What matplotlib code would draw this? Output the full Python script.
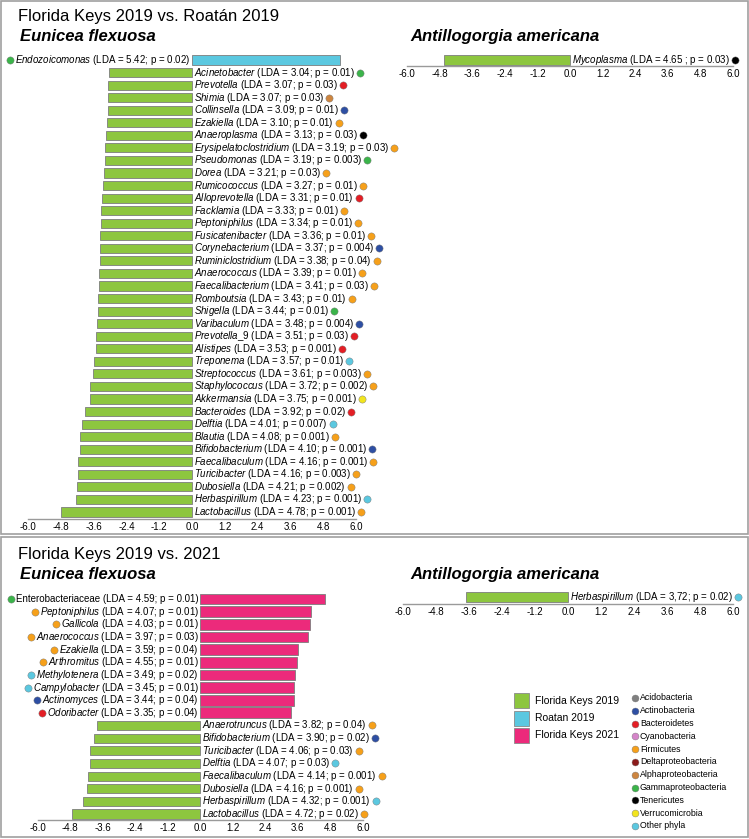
import matplotlib
matplotlib.use('Agg')
import matplotlib.pyplot as plt
from matplotlib.patches import Rectangle
from matplotlib.lines import Line2D
from matplotlib.transforms import offset_copy

plt.rcParams['font.family'] = ['Liberation Sans', 'DejaVu Sans']
plt.rcParams['mathtext.fontset'] = 'custom'
plt.rcParams['mathtext.rm'] = 'Liberation Sans'
plt.rcParams['mathtext.it'] = 'Liberation Sans:italic'
plt.rcParams['mathtext.bf'] = 'Liberation Sans:bold'
plt.rcParams['axes.unicode_minus'] = False

# ---------------- data ----------------
xticks = [-6.0, -4.8, -3.6, -2.4, -1.2, 0.0, 1.2, 2.4, 3.6, 4.8, 6.0]

group_colors = {'Florida Keys 2019': '#8DC63F', 'Roatan 2019': '#5BC8E0', 'Florida Keys 2021': '#EC2A7B'}
phylum_names = ['Acidobacteria', 'Actinobacteria', 'Bacteroidetes', 'Cyanobacteria', 'Firmicutes',
                'Deltaproteobacteria', 'Alphaproteobacteria', 'Gammaproteobacteria', 'Tenericutes',
                'Verrucomicrobia', 'Other phyla']
phylum_colors = ['#808080', '#2E4FA3', '#E31E25', '#D585C9', '#F6A01A', '#8B1A1A', '#CD8540',
                 '#3BB44A', '#000000', '#F2E51E', '#5BC8E0']

# Florida Keys 2019 vs Roatan 2019 - Eunicea flexuosa
t1_names = ['Endozoicomonas', 'Acinetobacter', 'Prevotella', 'Shimia', 'Collinsella', 'Ezakiella',
            'Anaeroplasma', 'Erysipelatoclostridium', 'Pseudomonas', 'Dorea', 'Rumicococcus',
            'Alloprevotella', 'Facklamia', 'Peptoniphilus', 'Fusicatenibacter', 'Corynebacterium',
            'Ruminiclostridium', 'Anaerococcus', 'Faecalibacterium', 'Romboutsia', 'Shigella',
            'Varibaculum', 'Prevotella_9', 'Alistipes', 'Treponema', 'Streptococcus',
            'Staphylococcus', 'Akkermansia', 'Bacteroides', 'Delftia', 'Blautia', 'Bifidobacterium',
            'Faecalibaculum', 'Turicibacter', 'Dubosiella', 'Herbaspirillum', 'Lactobacillus']
t1_lda = [5.42, 3.04, 3.07, 3.07, 3.09, 3.10, 3.13, 3.19, 3.19, 3.21, 3.27, 3.31, 3.33, 3.34, 3.36,
          3.37, 3.38, 3.39, 3.41, 3.43, 3.44, 3.48, 3.51, 3.53, 3.57, 3.61, 3.72, 3.75, 3.92, 4.01,
          4.08, 4.10, 4.16, 4.16, 4.21, 4.23, 4.78]
t1_p = ['0.02', '0.01', '0.03', '0.03', '0.01', '0.01', '0.03', '0.03', '0.003', '0.03', '0.01',
        '0.01', '0.01', '0.01', '0.01', '0.004', '0.04', '0.01', '0.03', '0.01', '0.01', '0.004',
        '0.03', '0.001', '0.01', '0.003', '0.002', '0.001', '0.02', '0.007', '0.001', '0.001',
        '0.001', '0.003', '0.002', '0.001', '0.001']
t1_group = ['Roatan 2019'] + ['Florida Keys 2019'] * 36
t1_phylum = ['Gammaproteobacteria', 'Gammaproteobacteria', 'Bacteroidetes', 'Alphaproteobacteria',
             'Actinobacteria', 'Firmicutes', 'Tenericutes', 'Firmicutes', 'Gammaproteobacteria',
             'Firmicutes', 'Firmicutes', 'Bacteroidetes', 'Firmicutes', 'Firmicutes', 'Firmicutes',
             'Actinobacteria', 'Firmicutes', 'Firmicutes', 'Firmicutes', 'Firmicutes',
             'Gammaproteobacteria', 'Actinobacteria', 'Bacteroidetes', 'Bacteroidetes', 'Other phyla',
             'Firmicutes', 'Firmicutes', 'Verrucomicrobia', 'Bacteroidetes', 'Other phyla',
             'Firmicutes', 'Actinobacteria', 'Firmicutes', 'Firmicutes', 'Firmicutes', 'Other phyla',
             'Firmicutes']

# Florida Keys 2019 vs Roatan 2019 - Antillogorgia americana
t2_names = ['Mycoplasma']
t2_lda = [4.65]
t2_labels = ['4.65 ; p = 0.03']
t2_group = ['Florida Keys 2019']
t2_phylum = ['Tenericutes']

# Florida Keys 2019 vs 2021 - Eunicea flexuosa
b1_names = ['Enterobacteriaceae', 'Peptoniphilus', 'Gallicola', 'Anaerococcus', 'Ezakiella',
            'Arthromitus', 'Methylotenera', 'Campylobacter', 'Actinomyces', 'Odoribacter',
            'Anaerotruncus', 'Bifidobacterium', 'Turicibacter', 'Delftia', 'Faecalibaculum',
            'Dubosiella', 'Herbaspirillum', 'Lactobacillus']
b1_italic = [False] + [True] * 17
b1_lda = [4.59, 4.07, 4.03, 3.97, 3.59, 3.55, 3.49, 3.45, 3.44, 3.35, 3.82, 3.90, 4.06, 4.07, 4.14,
          4.16, 4.32, 4.72]
b1_lda_text = ['4.59', '4.07', '4.03', '3.97', '3.59', '4.55', '3.49', '3.45', '3.44', '3.35', '3.82',
               '3.90', '4.06', '4.07', '4.14', '4.16', '4.32', '4.72']
b1_p = ['0.01', '0.01', '0.01', '0.03', '0.04', '0.01', '0.02', '0.01', '0.04', '0.04', '0.04', '0.02',
        '0.03', '0.03', '0.001', '0.001', '0.001', '0.02']
b1_group = ['Florida Keys 2021'] * 10 + ['Florida Keys 2019'] * 8
b1_phylum = ['Gammaproteobacteria', 'Firmicutes', 'Firmicutes', 'Firmicutes', 'Firmicutes',
             'Firmicutes', 'Other phyla', 'Other phyla', 'Actinobacteria', 'Bacteroidetes',
             'Firmicutes', 'Actinobacteria', 'Firmicutes', 'Other phyla', 'Firmicutes', 'Firmicutes',
             'Other phyla', 'Firmicutes']

# Florida Keys 2019 vs 2021 - Antillogorgia americana
b2_names = ['Herbaspirillum']
b2_lda = [3.72]
b2_labels = ['3,72; p = 0.02']
b2_group = ['Florida Keys 2019']
b2_phylum = ['Other phyla']

# ---------------- figure ----------------
W, H = 749, 839
fig = plt.figure(figsize=(W / 100, H / 100), dpi=100)
pc = dict(zip(phylum_names, phylum_colors))

ov = fig.add_axes([0, 0, 1, 1])
ov.set_xlim(0, W)
ov.set_ylim(H, 0)
ov.axis('off')


def add_ax(x0, x1, y0, y1):
    return fig.add_axes([x0 / W, 1 - y1 / H, (x1 - x0) / W, (y1 - y0) / H])


def style_axis(ax):
    for s in ['top', 'right', 'left']:
        ax.spines[s].set_visible(False)
    ax.spines['bottom'].set_color('#9a9a9a')
    ax.spines['bottom'].set_linewidth(1.0)
    ax.set_xlim(-6, 6)
    ax.set_xticks(xticks)
    ax.set_xticklabels([f"{t:.1f}" for t in xticks], fontsize=7)
    ax.tick_params(axis='x', length=0, pad=2.5)
    ax.set_yticks([])
    ax.patch.set_alpha(0)


def label_text(name, italic, body):
    if italic:
        nm = name.replace('_', r'\_')
        head = r"$\it{" + nm + "}$"
    else:
        head = name
    return f"{head} (LDA = {body})"


dots = []  # (text artist, side, y display fn, color)


def draw_bars(ax, names, ldas, groups, phyla, bodies, italics, hmap):
    for i, (n, v, g, ph, b, it) in enumerate(zip(names, ldas, groups, phyla, bodies, italics)):
        sign = -1 if g == 'Florida Keys 2019' else 1
        ax.barh(i, sign * v, height=hmap[g], color=group_colors[g], edgecolor='#7d7d7d',
                linewidth=0.6)
        if sign < 0:
            tr = offset_copy(ax.transData, fig=fig, x=2, y=0, units='dots')
            t = ax.text(0, i, label_text(n, it, b), ha='left', va='center', fontsize=7,
                        transform=tr, clip_on=False)
            dots.append((t, 'right', ax, i, pc[ph]))
        else:
            tr = offset_copy(ax.transData, fig=fig, x=-1.5, y=0, units='dots')
            t = ax.text(0, i, label_text(n, it, b), ha='right', va='center', fontsize=7,
                        transform=tr, clip_on=False)
            dots.append((t, 'left', ax, i, pc[ph]))


# top-left
rs = 12.56
ax1 = add_ax(28, 356, 60 - 0.5 * rs, 519)
style_axis(ax1)
ax1.set_ylim(len(t1_names) - 1 + 7 / rs, -0.5)
draw_bars(ax1, t1_names, t1_lda, t1_group, t1_phylum,
          [f"{v:.2f}; p = {p}" for v, p in zip(t1_lda, t1_p)], [True] * len(t1_names),
          {'Florida Keys 2019': 0.72, 'Roatan 2019': 0.85})

# top-right
ax2 = add_ax(407, 733, 50, 66)
style_axis(ax2)
ax2.set_ylim(6 / rs, -10 / rs)
draw_bars(ax2, t2_names, t2_lda, t2_group, t2_phylum, t2_labels, [True],
          {'Florida Keys 2019': 0.84})

# bottom-left
rb = 12.65
ax3 = add_ax(37.5, 363, 599 - 0.5 * rb, 820)
style_axis(ax3)
ax3.set_ylim(len(b1_names) - 1 + 6 / rb, -0.5)
draw_bars(ax3, b1_names, b1_lda, b1_group, b1_phylum,
          [f"{l}; p = {p}" for l, p in zip(b1_lda_text, b1_p)], b1_italic,
          {'Florida Keys 2019': 0.72, 'Florida Keys 2021': 0.85})

# bottom-right
ax4 = add_ax(403, 733, 588, 604)
style_axis(ax4)
ax4.set_ylim(7 / rb, -9 / rb)
draw_bars(ax4, b2_names, b2_lda, b2_group, b2_phylum, b2_labels, [True],
          {'Florida Keys 2019': 0.8})

# titles
ov.text(18, 20.7, 'Florida Keys 2019 vs. Roatán 2019', fontsize=12, va='baseline', ha='left')
ov.text(20, 40.7, 'Eunicea flexuosa', fontsize=12, fontweight='bold', fontstyle='italic',
        va='baseline', ha='left')
ov.text(410, 40.5, 'Antillogorgia americana', fontsize=12, fontweight='bold', fontstyle='italic',
        va='baseline', ha='left')
ov.text(18, 559, 'Florida Keys 2019 vs. 2021', fontsize=12, va='baseline', ha='left')
ov.text(20, 579, 'Eunicea flexuosa', fontsize=12, fontweight='bold', fontstyle='italic',
        va='baseline', ha='left')
ov.text(410, 579, 'Antillogorgia americana', fontsize=12, fontweight='bold', fontstyle='italic',
        va='baseline', ha='left')

# panel borders
ov.add_patch(Rectangle((1, 1), 746.5, 533, fill=False, edgecolor='#a0a0a0', linewidth=1.2))
ov.add_patch(Rectangle((1, 537), 746.5, 300, fill=False, edgecolor='#a0a0a0', linewidth=1.2))

# group legend
for k, g in enumerate(['Florida Keys 2019', 'Roatan 2019', 'Florida Keys 2021']):
    y0 = 693 + k * 17.5
    ov.add_patch(Rectangle((514, y0), 15, 15, facecolor=group_colors[g], edgecolor='#8a8a8a',
                           linewidth=0.6))
    ov.text(535, y0 + 7.5, g, fontsize=7.5, va='center', ha='left')

# phylum legend
for k, (n, c) in enumerate(zip(phylum_names, phylum_colors)):
    y = 698 + k * 12.8
    ov.plot([635], [y], marker='o', markersize=5, color=c, markeredgecolor='#777777',
            markeredgewidth=0.3, linestyle='none')
    ov.text(640, y, n, fontsize=6.3, va='center', ha='left')

# dots next to labels
fig.canvas.draw()
r = fig.canvas.get_renderer()
for t, side, ax, i, c in dots:
    bb = t.get_window_extent(r)
    yd = ax.transData.transform((0, i))[1]
    xd = bb.x1 + 5 if side == 'right' else bb.x0 - 5
    fig.add_artist(Line2D([xd / W], [yd / H], transform=fig.transFigure, marker='o',
                          markersize=5.2, color=c, markeredgecolor='#777777',
                          markeredgewidth=0.3, linestyle='none'))

fig.savefig('out.png', dpi=100)
